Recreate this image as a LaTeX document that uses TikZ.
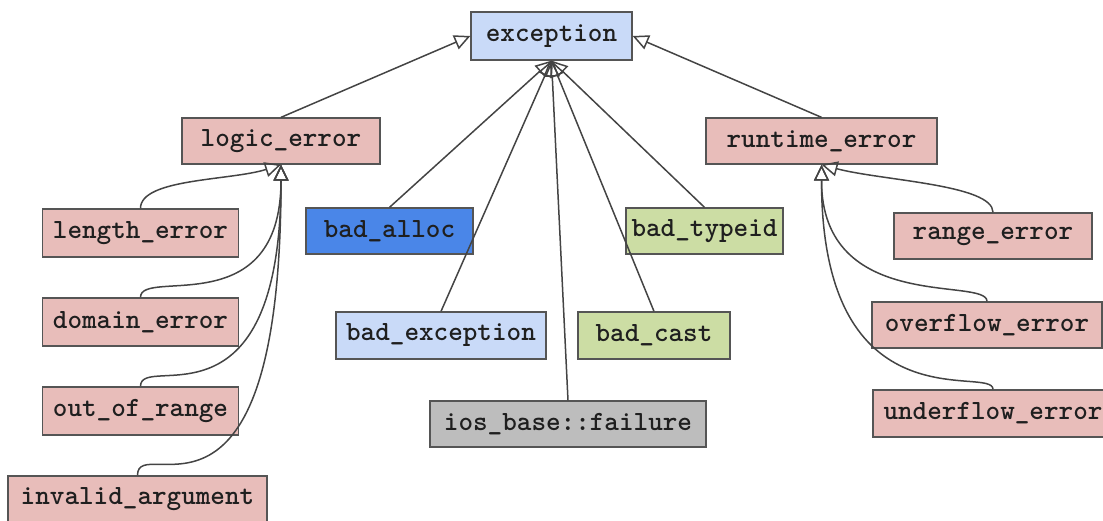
\documentclass[tikz,border=0pt]{standalone}
\usepackage{fontspec}
\usetikzlibrary{arrows.meta}

\definecolor{edge}{HTML}{444444}
\definecolor{frame}{HTML}{555555}
\definecolor{ink}{HTML}{1F1F1F}
\definecolor{errpink}{HTML}{E8BDBA}
\definecolor{excblue}{HTML}{C9DAF8}
\definecolor{allocblue}{HTML}{4A86E8}
\definecolor{rttigreen}{HTML}{CCDDA4}
\definecolor{iosgray}{HTML}{BDBDBD}

\tikzset{
  cls/.style={draw=frame, line width=1.3pt, inner sep=0pt, minimum height=46pt,
    text=ink, font=\fontsize{27.8}{31}\selectfont\ttfamily\bfseries},
  inh/.style={draw=edge, line width=1.5pt,
    -{Triangle[open, length=16pt, width=15pt]}},
}

\begin{document}
\begin{tikzpicture}[x=1pt, y=-1pt]
\useasboundingbox (0,0) rectangle (1103,520);

% root
\node[cls, fill=excblue, minimum width=161pt, minimum height=48pt] (exc) at (551.5,36) {exception};

% direct subclasses
\node[cls, fill=errpink, minimum width=198pt] (lgc) at (281,141) {logic\_error};
\node[cls, fill=errpink, minimum width=231pt] (rt)  at (821.5,141) {runtime\_error};
\node[cls, fill=allocblue, minimum width=167pt] (ba) at (389.5,231) {bad\_alloc};
\node[cls, fill=rttigreen, minimum width=157pt] (bt) at (704.5,231) {bad\_typeid};
\node[cls, fill=excblue, minimum width=210pt, minimum height=47pt] (be) at (441,335.5) {bad\_exception};
\node[cls, fill=rttigreen, minimum width=152pt, minimum height=47pt] (bc) at (654,335.5) {bad\_cast};
\node[cls, fill=iosgray, minimum width=276pt] (ios) at (568,424) {ios\_base::failure};

% logic_error family
\node[cls, fill=errpink, minimum width=196pt, minimum height=48pt] (len) at (140.5,233) {length\_error};
\node[cls, fill=errpink, minimum width=196pt, minimum height=48pt] (dom) at (140.5,322) {domain\_error};
\node[cls, fill=errpink, minimum width=196pt, minimum height=48pt] (oor) at (140.5,411) {out\_of\_range};
\node[cls, fill=errpink, minimum width=259pt] (inv) at (137.5,499) {invalid\_argument};

% runtime_error family
\node[cls, fill=errpink, minimum width=198pt] (rng) at (993,236) {range\_error};
\node[cls, fill=errpink, minimum width=230pt] (ovf) at (987,325) {overflow\_error};
\node[cls, fill=errpink, minimum width=240pt, minimum height=47pt] (udf) at (993,413.5) {underflow\_error};

% inheritance into exception
\draw[inh] (lgc.north) -- (exc.west);
\draw[inh] (rt.north) -- (exc.east);
\draw[inh] (ba.north) -- (exc.south);
\draw[inh] (be.north) -- (exc.south);
\draw[inh] (ios.north) -- (exc.south);
\draw[inh] (bc.north) -- (exc.south);
\draw[inh] (bt.north) -- (exc.south);

% inheritance into logic_error
\draw[inh] (len.north) .. controls +(0,-30) and +(-50,16) .. (lgc.south);
\draw[inh] (dom.north) .. controls +(0,-30) and +(0,160) .. (lgc.south);
\draw[inh] (oor.north) .. controls +(0,-35) and +(0,275) .. (lgc.south);
\draw[inh] (inv.north) .. controls +(0,-45) and +(0,400) .. (lgc.south);

% inheritance into runtime_error
\draw[inh] (rng.north) .. controls +(0,-28) and +(60,16) .. (rt.south);
\draw[inh] (ovf.north) .. controls +(0,-25) and +(0,150) .. (rt.south);
\draw[inh] (udf.north) .. controls +(0,-25) and +(0,265) .. (rt.south);
\end{tikzpicture}
\end{document}
